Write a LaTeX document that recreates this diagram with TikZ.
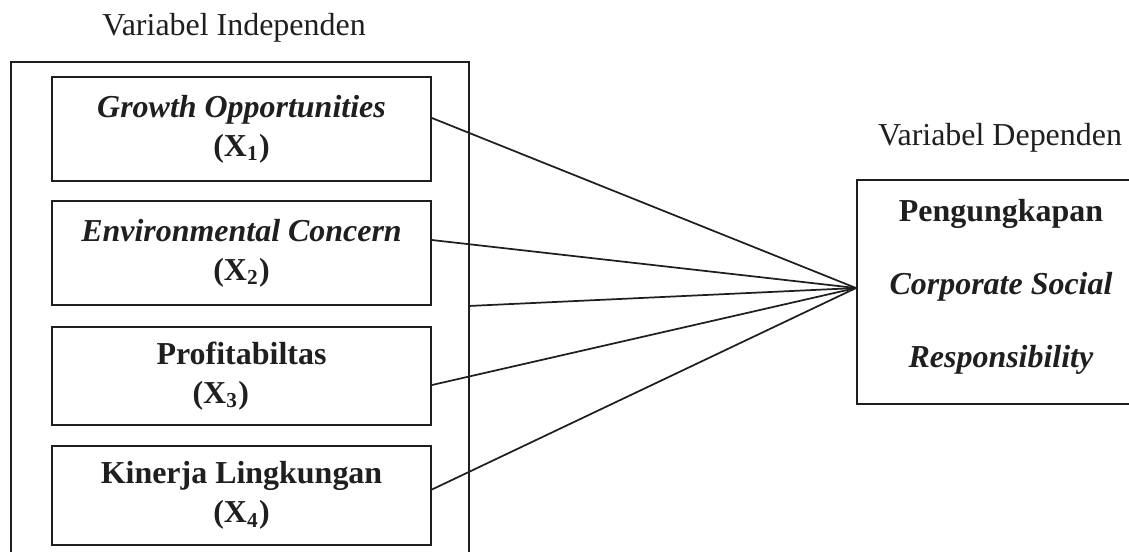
\documentclass[tikz,border=0pt,12pt]{standalone}
\usepackage{fontspec}
\setmainfont{Liberation Serif}
\usetikzlibrary{calc}
\colorlet{ink}{black!88}
\tikzset{
  varbox/.style={draw=ink, text=ink, line width=0.75pt, minimum width=5cm, align=center, font=\bfseries},
  frame/.style={draw=ink, line width=0.75pt},
  link/.style={draw=ink, line width=0.65pt},
  lbl/.style={text=ink}
}
\begin{document}
\begin{tikzpicture}[x=0.0132cm, y=-0.0132cm]
  \useasboundingbox (0,0) rectangle (1129,551);
  \clip (0,0) rectangle (1129,551);
  \node[lbl] (lblindep) at (234,28) {Variabel Independen};
  \node[frame, minimum width=6.05cm, minimum height=7.09cm] (indep) at (240,331) {};
  \node[varbox, minimum height=1.37cm] (box1) at (241.5,129) {\textit{Growth Opportunities}\\ (X\textsubscript{1})};
  \node[varbox, minimum height=1.37cm] (box2) at (241.5,253) {\textit{Environmental Concern}\\ (X\textsubscript{2})};
  \node[varbox, minimum height=1.29cm] (box3) at (241.5,376) {Profitabiltas\\ (X\textsubscript{3})\hspace*{1.3em}};
  \node[varbox, minimum height=1.31cm] (box4) at (241.5,495.5) {Kinerja Lingkungan\\ (X\textsubscript{4})};
  \node[lbl] (lbldep) at (1000,138) {Variabel Dependen};
  \node[frame, minimum width=4.4cm, minimum height=2.96cm] (dep) at (1023.7,292) {};
  \node[lbl, align=center, font=\bfseries] (deptext) at (1001,287) {Pengungkapan\\[13pt] \textit{Corporate Social}\\[13pt] \textit{Responsibility}};
  \coordinate (hub) at ($(dep.west)+(0,-4)$);
  \draw[link] ($(box1.east)+(0,-11)$) -- (hub);
  \draw[link] ($(box2.east)+(0,-13)$) -- (hub);
  \draw[link] (indep.east |- box2.south) -- (hub);
  \draw[link] ($(box3.east)+(0,9)$) -- (hub);
  \draw[link] ($(box4.east)+(0,-6)$) -- (hub);
\end{tikzpicture}
\end{document}
